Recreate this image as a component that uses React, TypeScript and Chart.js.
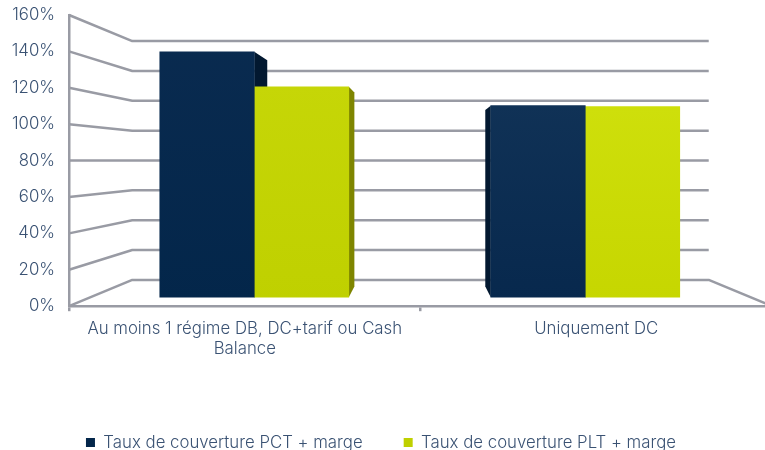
import React, { useEffect, useRef } from "react";
import { Chart, registerables } from "chart.js";

Chart.register(...registerables);

const categories: (string | string[])[] = [
  ["Au moins 1 régime DB, DC+tarif ou Cash", "Balance"],
  "Uniquement DC",
];
const categoryPositions = [1, 2];
const seriesPCT = [143.5, 112];
const seriesPLT = [123, 111.5];
const seriesNames = ["Taux de couverture PCT + marge", "Taux de couverture PLT + marge"];
const yTickStep = 20;
const yMax = 160;

const FONT = "Inter";
const TEXT = "#3a5273";
const GRID = "#999ba4";
const NAVY = "#06274b";
const LIME = "#c4d404";
const navyTop = ["#0a2b50", "#14365a"];
const navyBottom = ["#03264a", "#07284d"];
const limeTop = ["#c8d809", "#d2e310"];
const limeBottom = ["#bfd000", "#c6d600"];
const navySide = "#021830";
const limeSide = "#7e8500";

// perspective of the 3D box: vanishing point and depth fractions
const VP = { x: 420.5, y: 160 };
const WALL_DEPTH = 0.18;
const BAR_DEPTH = 0.078;

const project = (x: number, y: number, t: number) => ({
  x: x + (VP.x - x) * t,
  y: y + (VP.y - y) * t,
});

const box3d = {
  id: "box3d",
  beforeDatasetsDraw(chart: any) {
    const { ctx, chartArea, scales } = chart;
    const yS = scales.y;
    ctx.save();
    ctx.strokeStyle = GRID;
    ctx.lineWidth = 2.5;
    ctx.lineJoin = "round";
    yS.ticks.forEach((tick: any) => {
      const fy = yS.getPixelForValue(tick.value);
      const a = project(chartArea.left, fy, WALL_DEPTH);
      const b = project(chartArea.right, fy, WALL_DEPTH);
      ctx.beginPath();
      ctx.moveTo(chartArea.left, fy);
      ctx.lineTo(a.x, a.y);
      ctx.lineTo(b.x, b.y);
      if (tick.value === 0) ctx.lineTo(chartArea.right, fy);
      ctx.stroke();
    });
    // outer side faces of the bars, behind every front face
    chart.data.datasets.forEach((ds: any, di: number) => {
      const meta = chart.getDatasetMeta(di);
      ctx.fillStyle = di === 0 ? navySide : limeSide;
      meta.data.forEach((bar: any) => {
        const { x, y, base, width } = bar.getProps(["x", "y", "base", "width"], true);
        [x - width / 2, x + width / 2].forEach((ex) => {
          const outward = ex < VP.x ? ex === x + width / 2 : ex === x - width / 2;
          if (!outward) return;
          const t = project(ex, y, BAR_DEPTH);
          const b = project(ex, base, BAR_DEPTH);
          ctx.beginPath();
          ctx.moveTo(ex, y);
          ctx.lineTo(t.x, t.y);
          ctx.lineTo(b.x, b.y);
          ctx.lineTo(ex, base);
          ctx.closePath();
          ctx.fill();
        });
      });
    });
    ctx.restore();
  },
};

const gradientFill = (solid: string, tops: string[], bottoms: string[]) => (c: any) => {
  if (c.type !== "data" || !c.chart.chartArea) return solid;
  const g = c.chart.ctx.createLinearGradient(0, c.chart.chartArea.top, 0, c.chart.chartArea.bottom);
  g.addColorStop(0, tops[c.dataIndex]);
  g.addColorStop(1, bottoms[c.dataIndex]);
  return g;
};

export default function App() {
  const ref = useRef<HTMLCanvasElement>(null);
  useEffect(() => {
    const font = { family: FONT, size: 16.8, weight: "300" as any };
    const toPoints = (vals: number[]) => vals.map((v, i) => ({ x: categoryPositions[i], y: v }));
    const chart = new Chart(ref.current!, {
      type: "bar",
      data: {
        labels: categories as any,
        datasets: [
          {
            label: seriesNames[0],
            data: toPoints(seriesPCT) as any,
            xAxisID: "xBars",
            yAxisID: "yBars",
            backgroundColor: gradientFill(NAVY, navyTop, navyBottom) as any,
            barThickness: 94.5,
          },
          {
            label: seriesNames[1],
            data: toPoints(seriesPLT) as any,
            xAxisID: "xBars",
            yAxisID: "yBars",
            backgroundColor: gradientFill(LIME, limeTop, limeBottom) as any,
            barThickness: 94.5,
          },
        ],
      },
      options: {
        responsive: false,
        animation: false,
        layout: { padding: { top: 15, left: -10, right: 0, bottom: -11 } },
        plugins: {
          tooltip: { enabled: false },
          legend: {
            position: "bottom",
            labels: { boxWidth: 9, boxHeight: 9, padding: 41, color: TEXT, font },
          },
        },
        scales: {
          x: {
            type: "category",
            position: "bottom",
            offset: true,
            labels: categories as any,
            grid: { offset: true, drawOnChartArea: false, drawTicks: true, tickLength: 5, color: GRID, lineWidth: 2.5 },
            border: { color: GRID, width: 2.5 },
            ticks: { color: TEXT, font, autoSkip: false, maxRotation: 0, padding: 8 },
            afterFit: (s: any) => { s.height = 87; },
          },
          y: {
            type: "linear",
            position: "left",
            min: 0,
            max: yMax,
            grid: { display: false, tickLength: 14 },
            border: { color: GRID, width: 2.5 },
            ticks: { stepSize: yTickStep, color: TEXT, font, padding: 0, callback: (v: any) => `${v}%` },
            afterFit: (s: any) => { s.width = 79; },
          },
          xBars: { type: "linear", axis: "x", display: false, offset: false, position: "bottom", min: 0.4402, max: 2.5642, grid: { offset: false } },
          yBars: { type: "linear", axis: "y", display: false, position: "left", min: -5.25, max: 165 },
        } as any,
      },
      plugins: [box3d],
    } as any);
    return () => chart.destroy();
  }, []);
  return (
    <div style={{ position: "fixed", left: 0, top: 0, width: 765, height: 450, overflow: "hidden", background: "#fff" }}>
      <canvas ref={ref} width={772} height={450} style={{ display: "block" }} />
    </div>
  );
}
